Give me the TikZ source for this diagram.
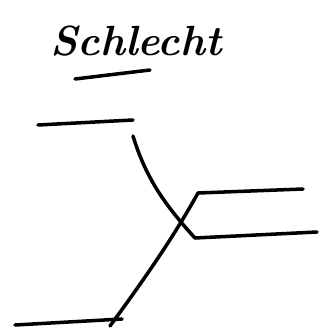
\documentclass[tikz,border=0pt]{standalone}
\usepackage{tikz}
\usetikzlibrary{positioning,calc}

\begin{document}
\begin{tikzpicture}[
    x=0.03cm, y=-0.03cm,
    pen/.style={line width=3pt, line cap=round, line join=round},
    title/.style={font=\fontsize{36}{36}\selectfont\bfseries\itshape, inner sep=0pt}
]
\useasboundingbox (0,0) rectangle (320,332);
% heading
\node[title, anchor=base] (word) at (136,55) {Schlecht};
\coordinate (ulA) at (75,79);
\coordinate (ulB) at (150,70);
\draw[pen] (ulA) -- (ulB);
% left stubs
\coordinate (tl) at (38,125);
\coordinate (tr) at (133,120);
\coordinate (bl) at (15,325);
\coordinate (br) at (122,319);
\draw[pen] (tl) -- (tr);
\draw[pen] (bl) -- (br);
% right stubs
\coordinate (ua) at (198,193);
\coordinate (ub) at (303,189);
\coordinate (la) at (195,238);
\coordinate (lb) at (317,232);
% crossing strands
\draw[pen] (133,136) .. controls (145,175) and (162,202) .. (la) -- (lb);
\draw[pen] (110,326) .. controls (140,285) and (172,240) .. (ua) -- (ub);
\end{tikzpicture}
\end{document}
